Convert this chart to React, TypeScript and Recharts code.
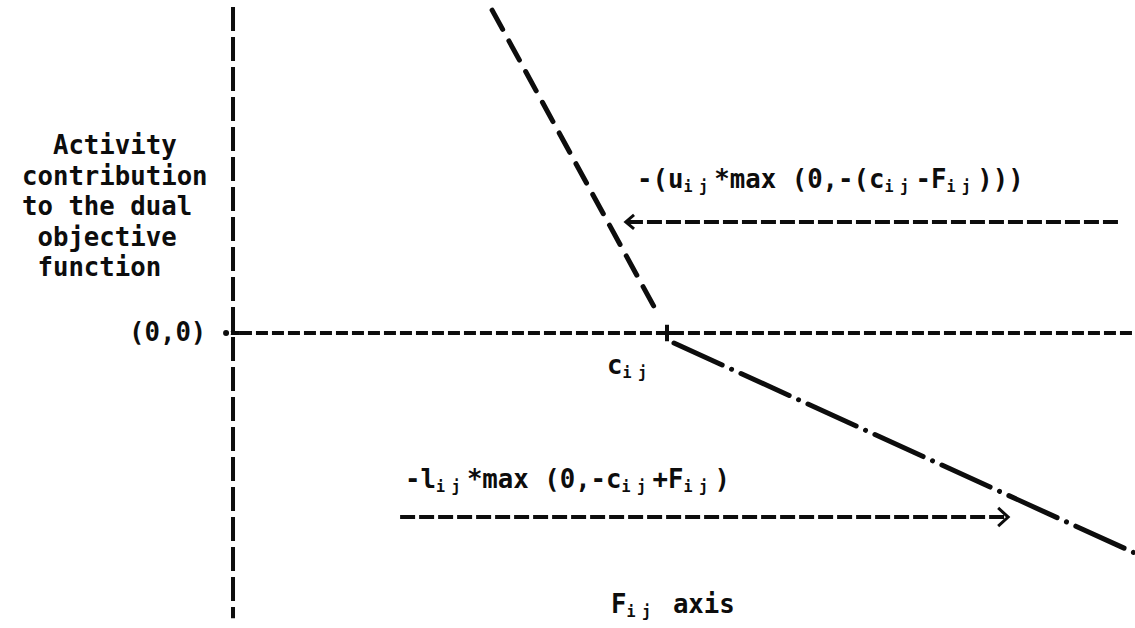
import { ComposedChart, Line, XAxis, YAxis } from "recharts";

// data space: origin (0,0) at the left cross, c_ij sits at x = 10
const verticalAxis = [{ x: 0, y: 7.51 }, { x: 0, y: -6.57 }];
const zeroLine = [{ x: 0.16, y: 0 }, { x: 20.78, y: 0 }];
const upperBound = [{ x: 5.97, y: 7.44 }, { x: 9.77, y: 0.48 }];
const lowerBound = [{ x: 10.16, y: -0.23 }, { x: 20.78, y: -5.07 }];
const upperArrow = [{ x: 9.1, y: 2.56 }, { x: 20.48, y: 2.56 }];
const upperHead = [{ x: 9.24, y: 2.72 }, { x: 9.05, y: 2.56 }, { x: 9.24, y: 2.4 }];
const lowerArrow = [{ x: 3.85, y: -4.24 }, { x: 17.81, y: -4.24 }];
const lowerHead = [{ x: 17.63, y: -4.03 }, { x: 17.86, y: -4.24 }, { x: 17.63, y: -4.45 }];
const originCross = [{ x: -0.16, y: 0 }, { x: 0.16, y: 0 }];
const cijCrossH = [{ x: 9.82, y: 0 }, { x: 10.18, y: 0 }];
const cijCrossV = [{ x: 10, y: 0.19 }, { x: 10, y: -0.19 }];

const yLabelLines = ["Activity", "contribution", "to the dual", "objective", "function"];
const yLabelIndent = [2, 0, 0, 1, 1];

const ink = "#0d0d0d";
const font = "'DejaVu Sans Mono', 'Liberation Mono', monospace";
const pitch = 15.47;

// typewriter subscript: small glyph, full carriage advance
const Sub = ({ children }: { children: string }) => (
  <span style={{ fontSize: 15, letterSpacing: pitch - 15 * 0.602, position: "relative", top: 4 }}>{children}</span>
);

export default function App() {
  const txt: React.CSSProperties = {
    position: "absolute",
    fontFamily: font,
    fontWeight: "bold",
    fontSize: 25.7,
    color: ink,
    whiteSpace: "pre",
    lineHeight: "30.5px",
  };
  const lineProps = { dataKey: "y", stroke: ink, dot: false, isAnimationActive: false } as const;
  return (
    <div style={{ position: "absolute", left: 0, top: 0, width: 1135, height: 628, background: "#fff" }}>
      <ComposedChart width={1135} height={628} margin={{ top: 0, right: 0, bottom: 0, left: 0 }}>
        <XAxis type="number" dataKey="x" domain={[-5.369, 20.783]} hide allowDataOverflow />
        <YAxis type="number" dataKey="y" domain={[-6.797, 7.673]} hide allowDataOverflow />
        <Line {...lineProps} data={verticalAxis} strokeWidth={4} strokeDasharray="24 6" />
        <Line {...lineProps} data={zeroLine} strokeWidth={4} strokeDasharray="12 4" />
        <Line {...lineProps} data={upperBound} strokeWidth={5} strokeDasharray="22 13" strokeLinecap="round" />
        <Line {...lineProps} data={lowerBound} strokeWidth={5} strokeDasharray="53 10.3 0.01 10.3" strokeLinecap="round" />
        <Line {...lineProps} data={upperArrow} strokeWidth={4} strokeDasharray="15 4" />
        <Line {...lineProps} data={upperHead} strokeWidth={3} />
        <Line {...lineProps} data={lowerArrow} strokeWidth={4} strokeDasharray="15 4" />
        <Line {...lineProps} data={lowerHead} strokeWidth={3} />
        <Line {...lineProps} data={originCross} strokeWidth={4} />
        <Line {...lineProps} data={cijCrossH} strokeWidth={4} />
        <Line {...lineProps} data={cijCrossV} strokeWidth={4} />
      </ComposedChart>

      {yLabelLines.map((t, i) => (
        <div key={t} style={{ ...txt, left: 22 + yLabelIndent[i] * pitch, top: 130 + i * 30.5 }}>{t}</div>
      ))}
      <div style={{ ...txt, left: 129, top: 317 }}>(0,0)</div>
      <div style={{ ...txt, left: 607, top: 350 }}>c<Sub>ij</Sub></div>
      <div style={{ ...txt, left: 637, top: 164 }}>-(u<Sub>ij</Sub>*max (0,-(c<Sub>ij</Sub>-F<Sub>ij</Sub>)))</div>
      <div style={{ ...txt, left: 405, top: 464 }}>-l<Sub>ij</Sub>*max (0,-c<Sub>ij</Sub>+F<Sub>ij</Sub>)</div>
      <div style={{ ...txt, left: 611, top: 589 }}>F<Sub>ij</Sub> axis</div>
    </div>
  );
}
